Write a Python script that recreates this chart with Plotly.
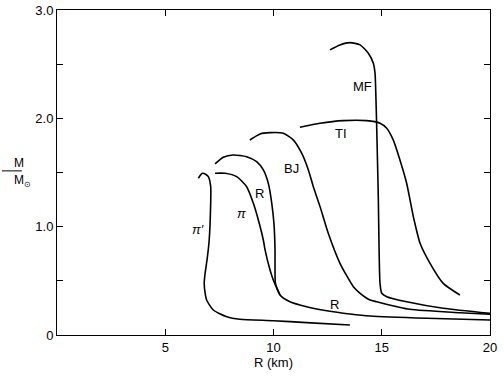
import plotly.graph_objects as go

# mass-radius curves, R in km, M in solar masses
pi_prime_r = [6.53, 6.71, 6.88, 6.99, 7.10, 7.09, 7.03, 6.93, 6.84, 6.80, 6.84, 6.91, 7.22, 7.84, 8.45, 9.99, 11.53, 13.53]
pi_prime_m = [1.447, 1.493, 1.482, 1.462, 1.369, 1.154, 0.877, 0.693, 0.570, 0.477, 0.388, 0.323, 0.231, 0.169, 0.145, 0.132, 0.114, 0.092]

pi_r = [7.30, 7.76, 8.30, 8.76, 9.07, 9.30, 9.53, 9.61, 9.84, 9.99, 10.12, 10.30]
pi_m = [1.493, 1.493, 1.462, 1.369, 1.216, 1.062, 0.877, 0.785, 0.600, 0.508, 0.446, 0.369]

reid_r = [7.30, 7.68, 8.14, 8.76, 9.22, 9.53, 9.76, 9.92, 10.02, 10.07, 10.07, 10.09, 10.30, 10.76, 11.53, 12.46, 13.53, 14.46, 17.08, 20.0]
reid_m = [1.579, 1.641, 1.662, 1.646, 1.600, 1.524, 1.401, 1.216, 1.031, 0.785, 0.600, 0.477, 0.369, 0.307, 0.261, 0.224, 0.194, 0.175, 0.154, 0.139]

bj_r = [8.91, 9.38, 9.84, 10.45, 10.91, 11.30, 11.61, 11.84, 12.15, 12.53, 13.07, 13.69, 14.0, 14.46, 14.77, 16.30, 18.61, 20.0]
bj_m = [1.80, 1.856, 1.868, 1.862, 1.801, 1.678, 1.524, 1.369, 1.185, 0.939, 0.662, 0.446, 0.385, 0.323, 0.307, 0.237, 0.206, 0.191]

ti_r = [11.22, 12.15, 13.22, 14.30, 14.92, 15.23, 15.53, 15.84, 16.15, 16.46, 16.77, 17.23, 17.84, 18.61]
ti_m = [1.918, 1.955, 1.979, 1.979, 1.955, 1.909, 1.801, 1.616, 1.401, 1.092, 0.847, 0.662, 0.477, 0.369]

mf_r = [12.61, 13.07, 13.53, 14.0, 14.38, 14.61, 14.69, 14.73, 14.77, 14.84, 14.92, 15.0, 15.23, 16.15, 17.84, 20.0]
mf_m = [2.632, 2.678, 2.699, 2.678, 2.601, 2.509, 2.416, 2.200, 1.893, 1.277, 0.477, 0.385, 0.354, 0.307, 0.247, 0.200]

labels = ["π′", "π", "R", "BJ", "TI", "MF", "R"]
label_r = [6.53, 8.53, 9.35, 10.84, 13.12, 14.09, 12.84]
label_m = [0.976, 1.124, 1.308, 1.539, 1.856, 2.29, 0.277]

x_ticks = [5, 10, 15, 20]
y_ticks = [0, 1.0, 2.0, 3.0]
y_tick_text = ["0", "1.0", "2.0", "3.0"]
y_minor = [0.5, 1.5, 2.5]

FONT = "Liberation Sans, Arial, sans-serif"

fig = go.Figure()
for r, m in [(pi_prime_r, pi_prime_m), (pi_r, pi_m), (reid_r, reid_m),
             (bj_r, bj_m), (ti_r, ti_m), (mf_r, mf_m)]:
    fig.add_trace(go.Scatter(
        x=r, y=m, mode="lines",
        line=dict(color="black", width=1.6, shape="spline", smoothing=0.6),
        showlegend=False, hoverinfo="skip",
    ))

for text, r, m in zip(labels, label_r, label_m):
    italic = text.startswith("π")
    fig.add_annotation(
        x=r, y=m, text=f"<i>{text}</i>" if italic else text, showarrow=False,
        font=dict(family=FONT, size=13, color="black"),
    )

# y-axis title drawn as a fraction M / M_sun
fig.add_annotation(xref="paper", yref="paper", x=-0.104, y=0.528, text="M",
                   showarrow=False, font=dict(family=FONT, size=12, color="black"))
fig.add_annotation(xref="paper", yref="paper", x=-0.104, y=0.474, text="M<sub>⊙</sub>",
                   showarrow=False, font=dict(family=FONT, size=12, color="black"))
fig.add_shape(type="line", xref="paper", yref="paper", x0=-0.127, x1=-0.081,
              y0=0.505, y1=0.505, line=dict(color="black", width=1))

fig.update_xaxes(
    range=[0, 20], tickvals=x_ticks, ticks="inside", ticklen=6, tickcolor="black",
    showline=True, linecolor="black", linewidth=1, mirror="ticks",
    showgrid=False, zeroline=False, automargin=False,
    tickfont=dict(family=FONT, size=13, color="black"),
    title=dict(text="R (km)", font=dict(family=FONT, size=13, color="black"), standoff=2),
)
fig.update_yaxes(
    range=[0, 3.0], tickvals=y_ticks, ticktext=y_tick_text, ticks="inside",
    ticklen=6, tickcolor="black",
    minor=dict(tickvals=y_minor, ticks="inside", ticklen=6, tickcolor="black", showgrid=False),
    showline=True, linecolor="black", linewidth=1, mirror="ticks",
    showgrid=False, zeroline=False, automargin=False,
    tickfont=dict(family=FONT, size=13, color="black"),
)
fig.update_layout(
    width=504, height=377,
    margin=dict(l=57, r=14, t=10, b=42),
    plot_bgcolor="white", paper_bgcolor="white",
)

fig.write_html("out.html", config={"displayModeBar": False},
               post_script="document.body.style.margin='0';")
